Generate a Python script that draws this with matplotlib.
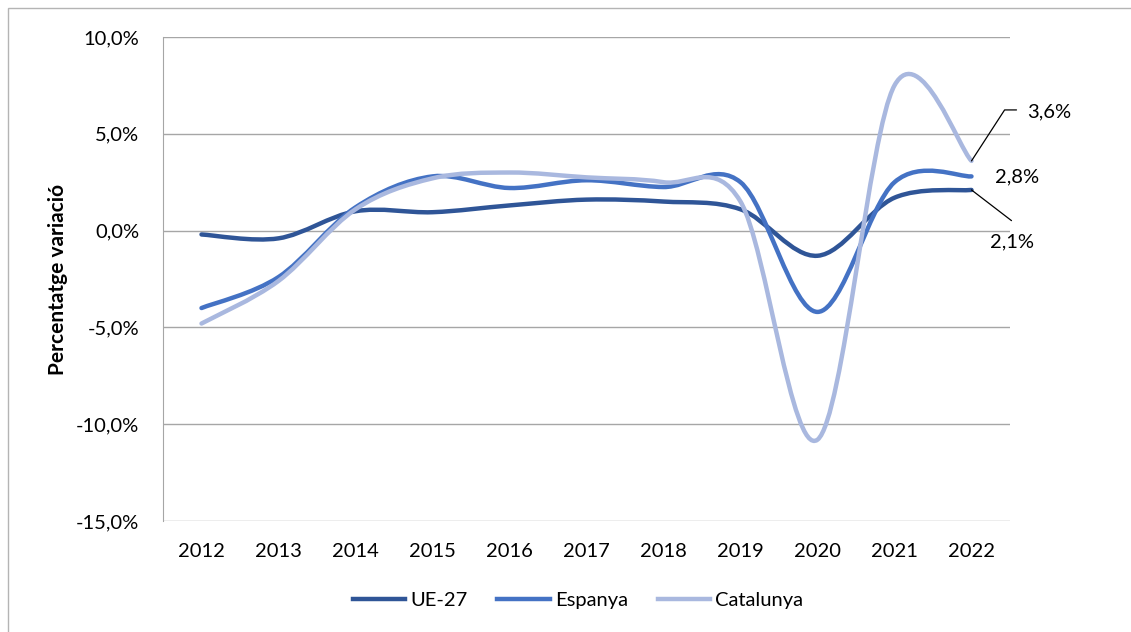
import numpy as np
import matplotlib
matplotlib.use("Agg")
import matplotlib.pyplot as plt
from matplotlib.path import Path
from matplotlib.patches import PathPatch, Rectangle
from matplotlib.lines import Line2D

plt.rcParams['font.family'] = ['Lato', 'DejaVu Sans']

years = ['2012', '2013', '2014', '2015', '2016', '2017', '2018', '2019', '2020', '2021', '2022']
ue27 = [-0.2, -0.4, 1.0, 0.95, 1.3, 1.6, 1.5, 1.1, -1.3, 1.7, 2.1]
espanya = [-4.0, -2.4, 1.2, 2.8, 2.2, 2.6, 2.25, 2.5, -4.2, 2.5, 2.8]
catalunya = [-4.8, -2.6, 1.1, 2.7, 3.0, 2.75, 2.5, 1.5, -10.8, 7.5, 3.6]
yticks = [-15, -10, -5, 0, 5, 10]
ytick_labels = ['-15,0%', '-10,0%', '-5,0%', '0,0%', '5,0%', '10,0%']

series = [('UE-27', ue27, '#2f5597'),
          ('Espanya', espanya, '#4472c4'),
          ('Catalunya', catalunya, '#a9b8df')]


# smoothed line like excel (catmull-rom as cubic bezier)
def smooth_path(xs, ys):
    pts = np.column_stack([xs, ys]).astype(float)
    n = len(pts)
    verts = [pts[0]]
    codes = [Path.MOVETO]
    for i in range(n - 1):
        p0 = pts[max(i - 1, 0)]
        p1 = pts[i]
        p2 = pts[i + 1]
        p3 = pts[min(i + 2, n - 1)]
        verts += [p1 + (p2 - p0) / 6, p2 - (p3 - p1) / 6, p2]
        codes += [Path.CURVE4] * 3
    return Path(verts, codes)


fig = plt.figure(figsize=(11.31, 6.32), dpi=100)
ax = fig.add_axes([163 / 1131, 1 - 521 / 632, 847 / 1131, 484 / 632])

x = np.arange(len(years))
for name, vals, col in series:
    ax.add_patch(PathPatch(smooth_path(x, vals), fill=False, edgecolor=col,
                           lw=3.2, capstyle='round', joinstyle='round', zorder=3))

ax.set_xlim(-0.5, len(years) - 0.5)
ax.set_ylim(-15, 10)
ax.set_xticks(x)
ax.set_xticklabels(years)
ax.set_yticks(yticks)
ax.set_yticklabels(ytick_labels)
ax.tick_params(length=0, labelsize=14.5)
ax.tick_params(axis='y', pad=17)
ax.tick_params(axis='x', pad=16)
ax.grid(axis='y', color='#a6a6a6', lw=1.0)
ax.set_axisbelow(True)
for s in ['top', 'right', 'bottom']:
    ax.spines[s].set_visible(False)
ax.spines['left'].set_color('#a6a6a6')
ax.set_ylabel('Percentatge variació', fontsize=15, fontweight='bold', labelpad=6)

# labels on last points
ax.annotate('3,6%', xy=(10, catalunya[-1]), xytext=(55.7, 35.3), textcoords='offset points',
            ha='center', va='center', fontsize=14.5)
ax.annotate('', xy=(10, catalunya[-1]), xytext=(32.4, 36.7), textcoords='offset points',
            arrowprops=dict(arrowstyle='-', color='black', lw=0.9, shrinkA=0, shrinkB=0,
                            connectionstyle='angle,angleA=0,angleB=57,rad=0'))
ax.annotate('2,8%', xy=(10, espanya[-1]), xytext=(32.8, -0.5), textcoords='offset points',
            ha='center', va='center', fontsize=14.5)
ax.annotate('2,1%', xy=(10, ue27[-1]), xytext=(29.0, -37.2), textcoords='offset points',
            ha='center', va='center', fontsize=14.5)
ax.annotate('', xy=(10, ue27[-1]), xytext=(28.8, -22.1), textcoords='offset points',
            arrowprops=dict(arrowstyle='-', color='black', lw=0.9, shrinkA=0, shrinkB=0))

handles = [Line2D([], [], color=c, lw=3.2) for _, _, c in series]
fig.legend(handles, [n for n, _, _ in series], loc='center', bbox_to_anchor=(578 / 1131, 1 - 600 / 632),
           ncol=3, frameon=False, fontsize=14.5, handlelength=2.6, handletextpad=0.25, columnspacing=1.5)

# chart border
fig.patches.append(Rectangle((8 / 1131, -0.1), 2, 1 - 8 / 632 + 0.1, transform=fig.transFigure,
                             fill=False, edgecolor='#b4b4b4', lw=1.0))

fig.savefig('out.png', dpi=100)
